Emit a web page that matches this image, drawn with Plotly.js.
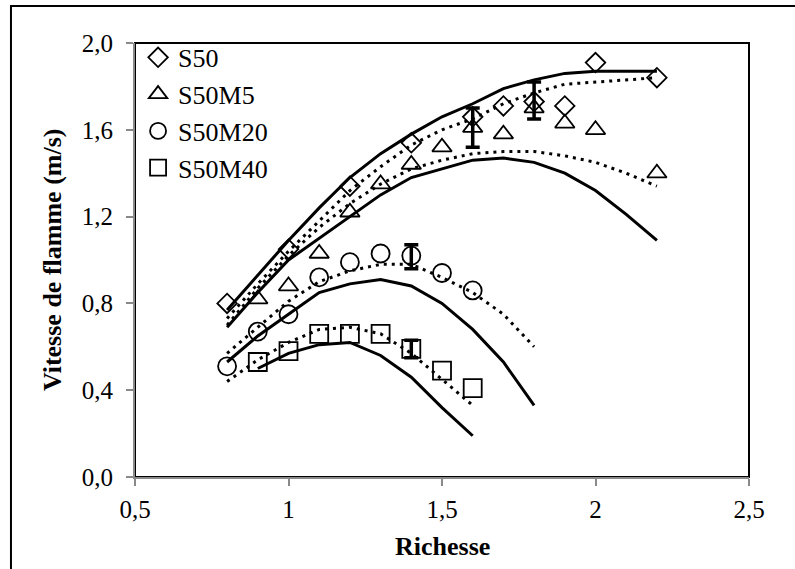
<!DOCTYPE html>
<html>
<head>
<meta charset="utf-8">
<script src="https://cdn.plot.ly/plotly-3.0.1.min.js"></script>
<style>html,body{margin:0;padding:0;background:#fff;}#chart{width:795px;height:569px;}</style>
</head>
<body>
<div id="chart"></div>
<script>
// Experimental points
const x_S50 = [0.8, 1.0, 1.2, 1.4, 1.6, 1.7, 1.8, 1.9, 2.0, 2.2];
const y_S50 = [0.80, 1.05, 1.34, 1.54, 1.66, 1.71, 1.73, 1.71, 1.91, 1.84];

const x_S50M5 = [0.9, 1.0, 1.1, 1.2, 1.3, 1.4, 1.5, 1.6, 1.7, 1.8, 1.9, 2.0, 2.2];
const y_S50M5 = [0.82, 0.88, 1.03, 1.22, 1.35, 1.44, 1.52, 1.61, 1.58, 1.70, 1.63, 1.60, 1.40];

const x_S50M20 = [0.8, 0.9, 1.0, 1.1, 1.2, 1.3, 1.4, 1.5, 1.6];
const y_S50M20 = [0.51, 0.67, 0.75, 0.92, 0.99, 1.03, 1.02, 0.94, 0.86];

const x_S50M40 = [0.9, 1.0, 1.1, 1.2, 1.3, 1.4, 1.5, 1.6];
const y_S50M40 = [0.53, 0.58, 0.66, 0.66, 0.66, 0.59, 0.49, 0.41];

// Error bars
const x_err = [1.4, 1.4, 1.6, 1.8];
const y_err = [0.59, 1.015, 1.61, 1.735];
const v_err = [0.04, 0.055, 0.09, 0.085];

// Model curves (solid)
const xs_S50 = [0.8, 0.9, 1.0, 1.1, 1.2, 1.3, 1.4, 1.5, 1.6, 1.7, 1.8, 1.9, 2.0, 2.1, 2.2];
const ys_S50 = [0.77, 0.93, 1.09, 1.24, 1.38, 1.49, 1.58, 1.66, 1.72, 1.79, 1.83, 1.86, 1.87, 1.87, 1.87];
const xs_S50M5 = [0.8, 0.9, 1.0, 1.1, 1.2, 1.3, 1.4, 1.5, 1.6, 1.7, 1.8, 1.9, 2.0, 2.1, 2.2];
const ys_S50M5 = [0.69, 0.85, 1.00, 1.10, 1.20, 1.30, 1.38, 1.42, 1.46, 1.47, 1.45, 1.40, 1.32, 1.21, 1.09];
const xs_S50M20 = [0.8, 0.9, 1.0, 1.1, 1.2, 1.3, 1.4, 1.5, 1.6, 1.7, 1.8];
const ys_S50M20 = [0.53, 0.65, 0.75, 0.85, 0.89, 0.91, 0.88, 0.80, 0.68, 0.53, 0.33];
const xs_S50M40 = [0.9, 1.0, 1.1, 1.2, 1.3, 1.4, 1.5, 1.6];
const ys_S50M40 = [0.50, 0.57, 0.61, 0.62, 0.56, 0.46, 0.32, 0.19];

// Model curves (dotted)
const xd_S50 = [0.8, 0.9, 1.0, 1.1, 1.2, 1.3, 1.4, 1.5, 1.6, 1.7, 1.8, 1.9, 2.0, 2.1, 2.2];
const yd_S50 = [0.73, 0.89, 1.04, 1.18, 1.32, 1.43, 1.53, 1.60, 1.65, 1.72, 1.77, 1.81, 1.82, 1.83, 1.84];
const xd_S50M5 = [0.8, 0.9, 1.0, 1.1, 1.2, 1.3, 1.4, 1.5, 1.6, 1.7, 1.8, 1.9, 2.0, 2.1, 2.2];
const yd_S50M5 = [0.70, 0.87, 1.02, 1.15, 1.26, 1.35, 1.42, 1.46, 1.49, 1.50, 1.50, 1.48, 1.45, 1.40, 1.34];
const xd_S50M20 = [0.8, 0.9, 1.0, 1.1, 1.2, 1.3, 1.4, 1.5, 1.6, 1.7, 1.8];
const yd_S50M20 = [0.57, 0.69, 0.81, 0.90, 0.95, 0.98, 0.98, 0.92, 0.85, 0.75, 0.60];
const xd_S50M40 = [0.8, 0.9, 1.0, 1.1, 1.2, 1.3, 1.4, 1.5, 1.6];
const yd_S50M40 = [0.44, 0.54, 0.62, 0.68, 0.69, 0.66, 0.57, 0.45, 0.33];

// Ticks and titles
const xTickVals = [0.5, 1, 1.5, 2, 2.5];
const xTickText = ['0,5', '1', '1,5', '2', '2,5'];
const yTickVals = [0.0, 0.4, 0.8, 1.2, 1.6, 2.0];
const yTickText = ['0,0', '0,4', '0,8', '1,2', '1,6', '2,0'];
const xTitle = 'Richesse';
const yTitle = 'Vitesse de flamme (m/s)';

const FONT = 'Liberation Serif, Times New Roman, serif';
const solid = {color: '#000', width: 3};
const dotted = {color: '#000', width: 3, dash: '3px,5px'};

function lineTrace(x, y, line) {
  return {x: x, y: y, mode: 'lines', line: line, showlegend: false, hoverinfo: 'skip', type: 'scatter'};
}
function markerTrace(name, x, y, symbol, size) {
  return {x: x, y: y, name: name, mode: 'markers', type: 'scatter',
    marker: {symbol: symbol, size: size, color: '#000', line: {color: '#000', width: 1.8}}};
}

const traces = [
  lineTrace(xs_S50, ys_S50, solid),
  lineTrace(xd_S50, yd_S50, dotted),
  lineTrace(xs_S50M5, ys_S50M5, solid),
  lineTrace(xd_S50M5, yd_S50M5, dotted),
  lineTrace(xs_S50M20, ys_S50M20, solid),
  lineTrace(xd_S50M20, yd_S50M20, dotted),
  lineTrace(xs_S50M40, ys_S50M40, solid),
  lineTrace(xd_S50M40, yd_S50M40, dotted),
  markerTrace('S50', x_S50, y_S50, 'diamond-open', 15),
  markerTrace('S50M5', x_S50M5, y_S50M5, 'triangle-up-open', 17),
  markerTrace('S50M20', x_S50M20, y_S50M20, 'circle-open', 18),
  markerTrace('S50M40', x_S50M40, y_S50M40, 'square-open', 18),
  {x: x_err, y: y_err, mode: 'markers', type: 'scatter', showlegend: false, hoverinfo: 'skip',
   marker: {size: 1, color: 'rgba(0,0,0,0)'},
   error_y: {type: 'data', array: v_err, visible: true, color: '#000', thickness: 3.5, width: 7}}
];

const layout = {
  width: 795, height: 569,
  margin: {l: 135, r: 46, t: 43, b: 92},
  paper_bgcolor: '#fff', plot_bgcolor: '#fff',
  font: {family: FONT, size: 25, color: '#000'},
  showlegend: true,
  legend: {x: 0.005, y: 1.021, xanchor: 'left', yanchor: 'top', bgcolor: 'rgba(0,0,0,0)',
    font: {family: FONT, size: 26, color: '#000'}, tracegroupgap: 0, itemwidth: 30},
  xaxis: {
    range: [0.5, 2.5], tickvals: xTickVals, ticktext: xTickText,
    showgrid: false, zeroline: false, showline: true, linecolor: '#898989', linewidth: 2,
    ticks: 'outside', ticklen: 7, tickwidth: 2, tickcolor: '#898989', ticklabelstandoff: 2,
    tickfont: {family: FONT, size: 25, color: '#000'},
    automargin: false
  },
  yaxis: {
    range: [0, 2.0], tickvals: yTickVals, ticktext: yTickText,
    showgrid: false, zeroline: false, showline: true, linecolor: '#898989', linewidth: 2,
    ticks: 'outside', ticklen: 7, tickwidth: 2, tickcolor: '#898989', ticklabelstandoff: 8,
    tickfont: {family: FONT, size: 25, color: '#000'},
    automargin: false
  },
  annotations: [
    {text: '<b>' + xTitle + '</b>', xref: 'paper', yref: 'paper', x: 0.5, y: -0.159,
     xanchor: 'center', yanchor: 'middle', showarrow: false,
     font: {family: FONT, size: 26, color: '#000'}},
    {text: '<b>' + yTitle + '</b>', xref: 'paper', yref: 'paper', x: -0.135, y: 0.5,
     xanchor: 'center', yanchor: 'middle', showarrow: false, textangle: -90,
     font: {family: FONT, size: 26, color: '#000'}}
  ],
  shapes: [
    {type: 'rect', xref: 'paper', yref: 'paper', x0: 0, x1: 1, y0: 0, y1: 1,
     line: {color: '#000', width: 2}, layer: 'below'},
    {type: 'rect', xref: 'paper', yref: 'paper', x0: -0.202, x1: 1.3, y0: -0.4, y1: 1.085,
     line: {color: '#000', width: 2}, layer: 'below'}
  ]
};

Plotly.newPlot('chart', traces, layout, {displayModeBar: false, staticPlot: true});
</script>
</body>
</html>
